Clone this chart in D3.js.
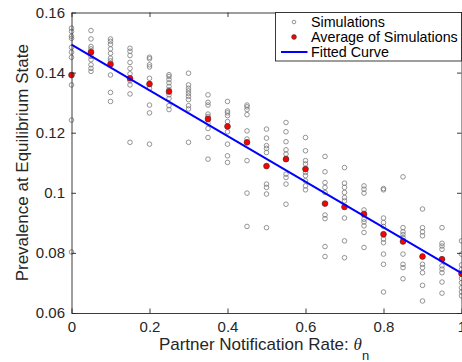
<!DOCTYPE html>
<html>
<head>
<meta charset="utf-8">
<script src="https://cdn.jsdelivr.net/npm/d3@7"></script>
<style>
  body { margin: 0; background: #fff; }
  svg { display: block; font-family: 'Liberation Sans', Arial, Helvetica, sans-serif; }
  .axis path, .axis line { stroke: #262626; stroke-width: 0.9; }
  .axis text { fill: #262626; font-size: 15px; }
</style>
</head>
<body>
<svg width="462" height="362"></svg>
<script>
// notification rates (x) for each group of simulations
var rates = [0, 0.05, 0.1, 0.15, 0.2, 0.25, 0.3, 0.35, 0.4, 0.45, 0.5,
  0.55, 0.6, 0.65, 0.7, 0.75, 0.8, 0.85, 0.9, 0.95, 1]

// 10 simulation runs per rate
var simulations = [
  [0.1548, 0.1537, 0.1521, 0.1514, 0.1484, 0.1468, 0.1451, 0.1359, 0.1242, 0.0803],
  [0.1540, 0.1512, 0.1487, 0.1479, 0.1468, 0.1454, 0.1443, 0.1426, 0.1414, 0.1404],
  [0.1512, 0.1504, 0.1494, 0.1479, 0.1464, 0.1448, 0.1439, 0.1392, 0.1334, 0.1304],
  [0.1481, 0.1471, 0.1457, 0.1434, 0.1414, 0.1396, 0.1373, 0.1359, 0.1329, 0.1168],
  [0.1451, 0.1446, 0.1426, 0.1419, 0.1381, 0.1362, 0.1348, 0.1292, 0.1266, 0.1162],
  [0.1393, 0.1387, 0.1377, 0.1366, 0.1354, 0.1343, 0.1326, 0.1314, 0.1290, 0.1277],
  [0.1398, 0.1359, 0.1348, 0.1339, 0.1330, 0.1321, 0.1310, 0.1290, 0.1279, 0.1168],
  [0.1326, 0.1301, 0.1292, 0.1262, 0.1254, 0.1243, 0.1232, 0.1214, 0.1184, 0.1112],
  [0.1304, 0.1272, 0.1266, 0.1257, 0.1237, 0.1221, 0.1203, 0.1162, 0.1123, 0.1101],
  [0.1292, 0.1286, 0.1277, 0.1260, 0.1206, 0.1179, 0.1168, 0.1107, 0.0999, 0.0888],
  [0.1212, 0.1182, 0.1157, 0.1148, 0.1134, 0.1089, 0.1029, 0.1018, 0.0996, 0.0884],
  [0.1234, 0.1203, 0.1170, 0.1143, 0.1129, 0.1114, 0.1062, 0.1051, 0.1029, 0.0962],
  [0.1184, 0.1140, 0.1107, 0.1096, 0.1079, 0.1068, 0.1057, 0.1040, 0.1023, 0.1010],
  [0.1121, 0.1070, 0.1034, 0.1018, 0.1001, 0.0964, 0.0926, 0.0914, 0.0821, 0.0788],
  [0.1084, 0.1032, 0.1018, 0.1001, 0.0984, 0.0973, 0.0953, 0.0916, 0.0840, 0.0784],
  [0.1023, 0.1012, 0.0999, 0.0943, 0.0932, 0.0912, 0.0903, 0.0890, 0.0868, 0.0818],
  [0.1014, 0.1010, 0.0916, 0.0901, 0.0888, 0.0846, 0.0834, 0.0796, 0.0762, 0.0670],
  [0.1053, 0.0884, 0.0870, 0.0861, 0.0851, 0.0838, 0.0796, 0.0762, 0.0751, 0.0714],
  [0.0946, 0.0884, 0.0870, 0.0857, 0.0788, 0.0762, 0.0751, 0.0734, 0.0692, 0.0640],
  [0.0884, 0.0832, 0.0823, 0.0812, 0.0779, 0.0757, 0.0746, 0.0734, 0.0703, 0.0666],
  [0.0840, 0.0796, 0.0760, 0.0745, 0.0730, 0.0715, 0.0701, 0.0684, 0.0670, 0.0657]
]

// red dots (no dot shows at 0.3 in the original)
var averages = [0.1392, 0.1468, 0.1428, 0.1381, 0.1362, 0.1337, null, 0.1246, 0.1221,
  0.1168, 0.1089, 0.1112, 0.1079, 0.0964, 0.0953, 0.0929, 0.0862, 0.0838, 0.0788, 0.0779, 0.0731]

var fitX = [0, 1]
var fitY = [0.1493, 0.0733]

var xTicks = [0, 0.2, 0.4, 0.6, 0.8, 1]
var yTicks = [0.06, 0.08, 0.1, 0.12, 0.14, 0.16]

var legendLabels = ['Simulations', 'Average of Simulations', 'Fitted Curve']

var svg = d3.select('svg')
// note: "top" is a read-only global in browsers, so use other names
var plotLeft = 71.5
var plotRight = 461.5
var plotTop = 12.5
var plotBottom = 313

var x = d3.scaleLinear().domain([0, 1]).range([plotLeft, plotRight])
var y = d3.scaleLinear().domain([0.06, 0.16]).range([plotBottom, plotTop])

svg.append('rect').attr('width', 462).attr('height', 362).attr('fill', '#fff')

// simulation circles
var pts = []
rates.forEach(function (r, i) {
  simulations[i].forEach(function (v) { pts.push([r, v]) })
})

svg.append('g').selectAll('circle')
    .data(pts)
  .enter().append('circle')
    .attr('cx', function (d) { return x(d[0]) })
    .attr('cy', function (d) { return y(d[1]) })
    .attr('r', 2.3)
    .attr('fill', 'none')
    .attr('stroke', '#7a7a7a')
    .attr('stroke-width', 0.8)

svg.append('g').selectAll('circle')
    .data(rates.map(function (r, i) { return [r, averages[i]] }).filter(function (d) { return d[1] !== null }))
  .enter().append('circle')
    .attr('cx', function (d) { return x(d[0]) })
    .attr('cy', function (d) { return y(d[1]) })
    .attr('r', 2.9)
    .attr('fill', '#ff0000')
    .attr('stroke', '#333')
    .attr('stroke-width', 0.6)

var line = d3.line()
    .x(function (d) { return x(d[0]) })
    .y(function (d) { return y(d[1]) })

svg.append('path')
    .datum(fitX.map(function (v, i) { return [v, fitY[i]] }))
    .attr('d', line)
    .attr('fill', 'none')
    .attr('stroke', '#0000ff')
    .attr('stroke-width', 2)

// axes, ticks pointing inward like matlab
var fmt = d3.format('~g')
svg.append('g').attr('class', 'axis')
    .attr('transform', 'translate(0,' + plotBottom + ')')
    .call(d3.axisBottom(x).tickValues(xTicks).tickFormat(fmt).tickSizeInner(-4.5).tickSizeOuter(0).tickPadding(8))
svg.append('g').attr('class', 'axis')
    .attr('transform', 'translate(0,' + plotTop + ')')
    .call(d3.axisTop(x).tickValues(xTicks).tickFormat('').tickSizeInner(-4.5).tickSizeOuter(0))
svg.append('g').attr('class', 'axis')
    .attr('transform', 'translate(' + plotLeft + ',0)')
    .call(d3.axisLeft(y).tickValues(yTicks).tickFormat(fmt).tickSizeInner(-4.5).tickSizeOuter(0).tickPadding(6.5))
svg.append('g').attr('class', 'axis')
    .attr('transform', 'translate(' + plotRight + ',0)')
    .call(d3.axisRight(y).tickValues(yTicks).tickFormat('').tickSizeInner(-4.5).tickSizeOuter(0))

// axis labels
var xl = svg.append('text')
    .attr('x', 264)
    .attr('y', 349.5)
    .attr('text-anchor', 'middle')
    .attr('fill', '#262626')
    .style('font-size', '17px')
xl.append('tspan').text('Partner Notification Rate: ')
xl.append('tspan').text('θ').style('font-family', "'Liberation Serif', serif").style('font-style', 'italic')
xl.append('tspan').text('n').attr('dy', 10).style('font-size', '13px')

svg.append('text')
    .attr('transform', 'translate(27.5,' + ((plotTop + plotBottom) / 2) + ') rotate(-90)')
    .attr('text-anchor', 'middle')
    .attr('fill', '#262626')
    .style('font-size', '17px')
    .text('Prevalence at Equilibrium State')

// legend
var lg = svg.append('g')
lg.append('rect')
    .attr('x', 275.5).attr('y', plotTop)
    .attr('width', plotRight - 275.5).attr('height', 61 - plotTop)
    .attr('fill', '#fff')
    .attr('stroke', '#262626')
    .attr('stroke-width', 0.9)

var rowY = [22, 37, 52]
lg.append('circle').attr('cx', 294).attr('cy', rowY[0]).attr('r', 1.8)
    .attr('fill', 'none').attr('stroke', '#7a7a7a').attr('stroke-width', 0.8)
lg.append('circle').attr('cx', 294).attr('cy', rowY[1]).attr('r', 2.4)
    .attr('fill', '#ff0000').attr('stroke', '#333').attr('stroke-width', 0.6)
lg.append('line').attr('x1', 281).attr('x2', 307.5).attr('y1', rowY[2]).attr('y2', rowY[2])
    .attr('stroke', '#0000ff').attr('stroke-width', 2)

lg.selectAll('text.lab')
    .data(legendLabels)
  .enter().append('text')
    .attr('class', 'lab')
    .attr('x', 311)
    .attr('y', function (d, i) { return rowY[i] })
    .attr('dy', '0.35em')
    .attr('fill', '#000')
    .style('font-size', '14.3px')
    .text(function (d) { return d })
</script>
</body>
</html>
